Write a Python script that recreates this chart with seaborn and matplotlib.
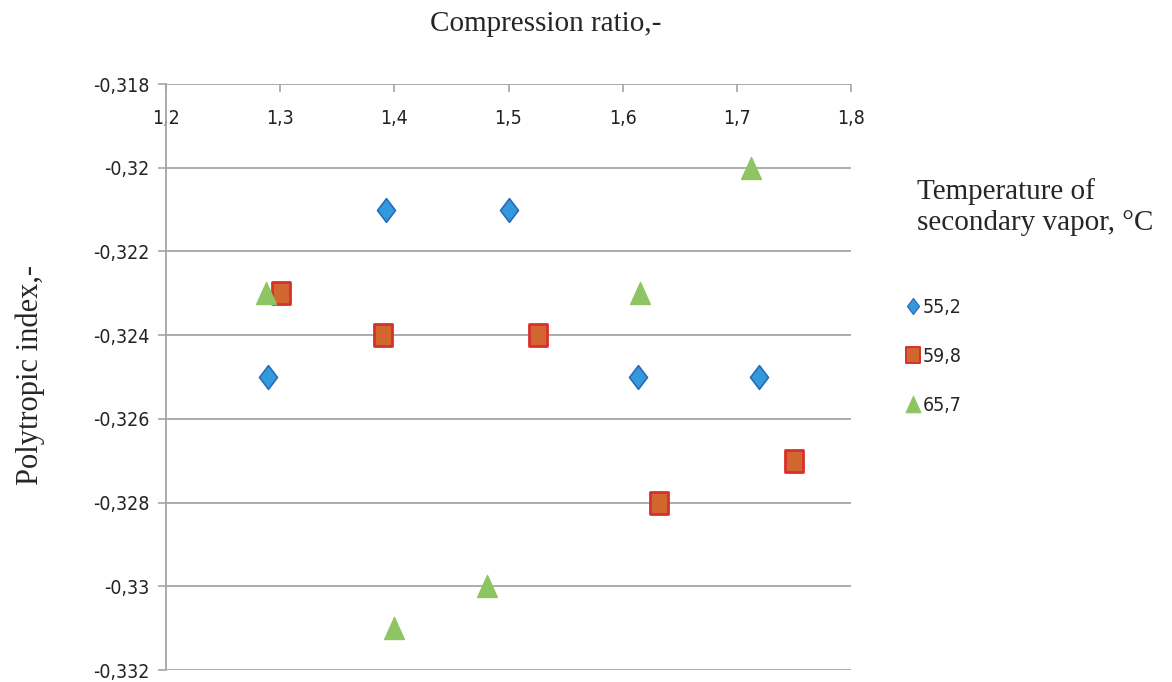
import matplotlib
matplotlib.use("Agg")
import matplotlib.pyplot as plt
import matplotlib.ticker as mticker
from matplotlib.lines import Line2D
from matplotlib.path import Path
from matplotlib.font_manager import FontProperties
import seaborn as sns
import pandas as pd

# ---- data ----
series_names = ["55,2", "59,8", "65,7"]
x_552 = [1.289, 1.393, 1.500, 1.613, 1.719]
y_552 = [-0.325, -0.321, -0.321, -0.325, -0.325]
x_598 = [1.301, 1.390, 1.526, 1.632, 1.750]
y_598 = [-0.323, -0.324, -0.324, -0.328, -0.327]
x_657 = [1.288, 1.400, 1.481, 1.615, 1.712]
y_657 = [-0.323, -0.331, -0.330, -0.323, -0.320]
x_ticks = [1.2, 1.3, 1.4, 1.5, 1.6, 1.7, 1.8]
y_ticks = [-0.332, -0.330, -0.328, -0.326, -0.324, -0.322, -0.320, -0.318]

df = pd.concat([
    pd.DataFrame({"x": x_552, "y": y_552, "T": series_names[0]}),
    pd.DataFrame({"x": x_598, "y": y_598, "T": series_names[1]}),
    pd.DataFrame({"x": x_657, "y": y_657, "T": series_names[2]}),
])

sns.set_style("white")
serif = ["Liberation Serif", "DejaVu Serif"]
tick_font = FontProperties(family="DejaVu Sans", stretch="condensed", size=14)

C = [Path.MOVETO, Path.LINETO, Path.LINETO, Path.LINETO, Path.CLOSEPOLY]
diamond = Path([(0, 1), (0.76, 0), (0, -1), (-0.76, 0), (0, 1)], C)
tall_sq = Path([(-0.86, -1), (0.86, -1), (0.86, 1), (-0.86, 1), (-0.86, -1)], C)
tri = Path([(0, 1), (0.9, -1), (-0.9, -1), (0, 1)],
           [Path.MOVETO, Path.LINETO, Path.LINETO, Path.CLOSEPOLY])

fig = plt.figure(figsize=(11.72, 6.82), dpi=100)
ax = fig.add_axes([166/1172, 1-670/682, (851-166)/1172, (670-84)/682])

styles = {
    "55,2": dict(marker=diamond, fc="#3399DD", ec="#2A6AB8", s=290, lw=1.2, ms=11.5),
    "59,8": dict(marker=tall_sq, fc="#D2662F", ec="#D8302C", s=250, lw=2.0, ms=12),
    "65,7": dict(marker=tri, fc="#8DC563", ec="#8DC563", s=250, lw=1.0, ms=12),
}
for name in series_names:
    st = styles[name]
    sub = df[df["T"] == name]
    sns.scatterplot(data=sub, x="x", y="y", ax=ax, marker=st["marker"],
                    color=st["fc"], edgecolor=st["ec"], s=st["s"],
                    linewidth=st["lw"], legend=False, zorder=3)

ax.set_xlim(1.2, 1.8)
ax.set_ylim(-0.332, -0.318)
ax.set_xticks(x_ticks)
ax.set_yticks(y_ticks)
fmt = lambda v, p: (f"{v:.3f}".rstrip("0").rstrip(".")).replace(".", ",")
ax.xaxis.set_major_formatter(mticker.FuncFormatter(lambda v, p: f"{v:.1f}".replace(".", ",")))
ax.yaxis.set_major_formatter(mticker.FuncFormatter(fmt))

ax.grid(axis="y", color="#A6A6A6", lw=1.3)
ax.grid(axis="x", visible=False)
for sp in ["right", "bottom", "top"]:
    ax.spines[sp].set_visible(False)
ax.spines["left"].set_color("#A6A6A6")
ax.spines["left"].set_linewidth(1.3)

ax.xaxis.tick_top()
ax.tick_params(axis="x", direction="in", length=6, color="#A6A6A6", width=1.2,
               top=True, bottom=False, labeltop=True, labelbottom=False, pad=-32)
ax.tick_params(axis="y", direction="out", length=6, color="#A6A6A6", width=1.2,
               left=True, pad=6)
for lab in ax.get_xticklabels() + ax.get_yticklabels():
    lab.set_fontproperties(tick_font)
    lab.set_color("#222222")
ax.set_xlabel("")
ax.set_ylabel("")

fig.text(546/1172, 1-24/682, "Compression ratio,-", ha="center", va="center",
         fontsize=21, family=serif)
fig.text(30/1172, 1-375/682, "Polytropic index,-", ha="center", va="center",
         rotation=90, fontsize=22, family=serif)
fig.text(917/1172, 1-207/682, "Temperature of\nsecondary vapor, °C", ha="left",
         va="center", fontsize=21, family=serif, linespacing=1.25)

handles = []
for name in series_names:
    st = styles[name]
    handles.append(Line2D([], [], ls="none", marker=st["marker"], mfc=st["fc"],
                          mec=st["ec"], ms=st["ms"], mew=st["lw"] * 0.7, label=name))
leg = fig.legend(handles=handles, loc="upper left", bbox_to_anchor=(886/1172, 1-280/682),
                 frameon=False, handletextpad=0.0, labelspacing=1.55, handlelength=1.0,
                 prop=FontProperties(family="DejaVu Sans", stretch="condensed", size=14))

fig.savefig("out.png", dpi=100)
